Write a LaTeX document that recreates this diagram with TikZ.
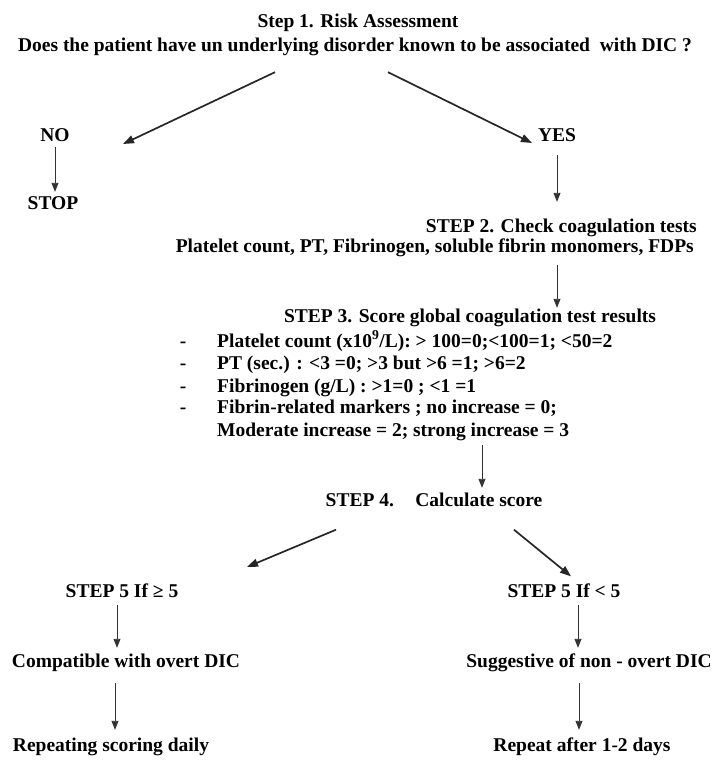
\documentclass[tikz,border=0pt]{standalone}
\usepackage{fontspec}
\setmainfont{Liberation Serif}
\usetikzlibrary{arrows.meta}

\begin{document}
\begin{tikzpicture}[x=1pt, y=-1pt,
	lbl/.style={font=\bfseries\fontsize{19.5}{22}\selectfont, inner sep=0pt, text height=13pt, text depth=4pt},
	down/.style={-{Triangle[length=9pt,width=7pt]}, line width=0.9pt, black!80},
	slant/.style={-{Triangle[length=11pt,width=8pt]}, line width=1.7pt, black!85}]
	
	\useasboundingbox (0,0) rectangle (715,765);
	
	% Step 1
	\node[lbl] (s1) at (358,23) {Step 1. Risk Assessment};
	\node[lbl] (q) at (355,47) {Does the patient have un underlying disorder known to be associated\ \ with DIC ?};
	
	% No / Yes
	\node[lbl] (no) at (55,137) {NO};
	\node[lbl] (stop) at (53,205) {STOP};
	\node[lbl] (yes) at (557,137) {YES};
	
	% Step 2
	\node[lbl, anchor=east] (s2) at (697,228) {STEP 2. Check coagulation tests};
	\node[lbl, anchor=east] (p2) at (694,248) {Platelet count, PT, Fibrinogen, soluble fibrin monomers, FDPs};
	
	% Step 3 and its score list
	\node[lbl] (s3) at (470,318) {STEP 3. Score global coagulation test results};
	\node[lbl, anchor=west] (b1) at (217,343) {Platelet count (x10\textsuperscript{9}/L): > 100=0;<100=1; <50=2};
	\node[lbl, anchor=west] (b2) at (217,365) {PT (sec.) : <3 =0; >3 but >6 =1; >6=2};
	\node[lbl, anchor=west] (b3) at (217,388) {Fibrinogen (g/L) : >1=0 ; <1 =1};
	\node[lbl, anchor=west] (b4) at (217,409) {Fibrin-related markers ; no increase = 0;};
	\node[lbl, anchor=west] (b5) at (217,432) {Moderate increase = 2; strong increase = 3};
	\foreach \n in {b1,b2,b3,b4}
		\node[lbl] at ([xshift=-34pt]\n.west) {-};
	
	% Step 4
	\node[lbl] (s4) at (434,502) {STEP 4.\hspace{1.1em}Calculate score};
	
	% Step 5, two branches
	\node[lbl] (s5a) at (122,593) {STEP 5 If ≥ 5};
	\node[lbl] (s5b) at (564,593) {STEP 5 If < 5};
	\node[lbl] (compat) at (126,663) {Compatible with overt DIC};
	\node[lbl] (sugg) at (589,663) {Suggestive of non - overt DIC};
	\node[lbl] (rep1) at (111,747) {Repeating scoring daily};
	\node[lbl] (rep2) at (582,747) {Repeat after 1-2 days};
	
	% Slanted arrows
	\draw[slant] ([xshift=-80pt,yshift=-16.5pt]q.south) -- ([xshift=68pt,yshift=-7pt]no.center);
	\draw[slant] ([xshift=33pt,yshift=-16.5pt]q.south) -- ([xshift=-25pt,yshift=-6pt]yes.center);
	\draw[slant] ([xshift=-98pt,yshift=-19pt]s4.south) -- ([xshift=125pt,yshift=26pt]s5a.center);
	\draw[slant] ([xshift=80pt,yshift=-19pt]s4.south) -- ([xshift=7pt,yshift=8pt]s5b.north);
	
	% Straight arrows
	\draw[down, shorten <=1.5pt, shorten >=4.5pt] (no.south) -- (no.south |- stop.north);
	\draw[down, shorten <=9.5pt, shorten >=17.5pt] (yes.south) -- (yes.south |- s2.north);
	\draw[down, shorten <=8.5pt, shorten >=1.5pt] (yes.south |- p2.south) -- (yes.south |- s3.north);
	\draw[down, shorten <=4.5pt, shorten >=5.5pt] ([xshift=48pt]s4.north |- b5.south) -- ([xshift=48pt]s4.north);
	\draw[down, shorten <=3.5pt, shorten >=6.5pt] ([xshift=-5pt]s5a.south) -- ([xshift=-5pt]s5a.south |- compat.north);
	\draw[down, shorten <=11.5pt, shorten >=8.5pt] ([xshift=-7pt]s5a.south |- compat.south) -- ([xshift=-7pt]s5a.south |- rep1.north);
	\draw[down, shorten <=3.5pt, shorten >=6.5pt] ([xshift=14pt]s5b.south) -- ([xshift=14pt]s5b.south |- sugg.north);
	\draw[down, shorten <=11.5pt, shorten >=8.5pt] ([xshift=15pt]s5b.south |- sugg.south) -- ([xshift=15pt]s5b.south |- rep2.north);
	
\end{tikzpicture}
\end{document}
